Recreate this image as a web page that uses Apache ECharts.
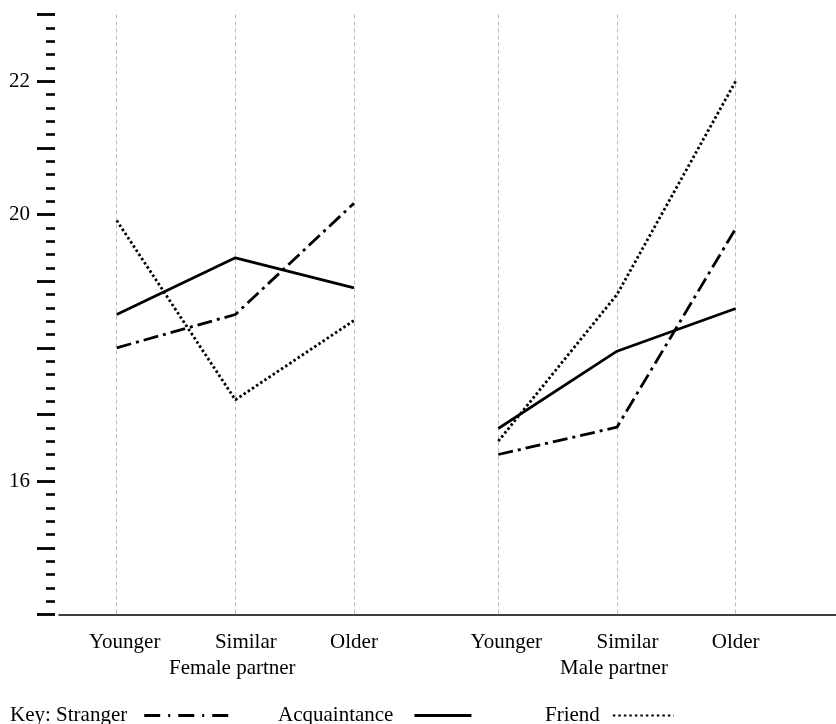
<!DOCTYPE html>
<html>
<head>
<meta charset="utf-8">
<script src="https://cdn.jsdelivr.net/npm/echarts@6/dist/echarts.min.js"></script>
<style>
  html, body { margin: 0; padding: 0; background: #fff; }
  #chart { width: 836px; height: 724px; }
</style>
</head>
<body>
<div id="chart"></div>
<script>
// Partner age relative to participant, per relationship type
const ageGroups = ['Younger', 'Similar', 'Older'];
const panelNames = ['Female partner', 'Male partner'];

const femaleStranger = [18.0, 18.5, 20.17];
const femaleAcquaintance = [18.5, 19.35, 18.9];
const femaleFriend = [19.91, 17.22, 18.41];

const maleStranger = [16.4, 16.81, 19.79];
const maleAcquaintance = [16.79, 17.95, 18.59];
const maleFriend = [16.6, 18.8, 22.0];

// Value axis: 14..23 with labels only at selected values
const yMin = 14;
const yMax = 23;
const yLabelled = [16, 20, 22];

const FONT = 'Liberation Serif';
const INK = '#000';

const styles = {
  Stranger: { type: [15, 5, 3, 5], width: 2.8 },
  Acquaintance: { type: 'solid', width: 2.7 },
  Friend: { type: [2.5, 2.5], width: 2.8 }
};

// horizontal nudge (px, doubled as left padding) for each category label
const labelNudge = [16, 21, 0];

const plotTop = 14.5, plotBottom = 109.5;

function panelSeries(name, values, idx) {
  return {
    name: name,
    type: 'line',
    xAxisIndex: idx,
    yAxisIndex: idx,
    data: values,
    symbol: 'none',
    silent: true,
    lineStyle: { color: INK, width: styles[name].width, type: styles[name].type, cap: 'butt' },
    itemStyle: { color: INK }
  };
}

function panelXAxis(gridIndex, name) {
  const rich = {};
  labelNudge.forEach((p, i) => {
    rich['c' + i] = { color: INK, fontFamily: FONT, fontSize: 21, padding: [0, 0, 0, p] };
  });
  return {
    type: 'category',
    gridIndex: gridIndex,
    data: ageGroups,
    boundaryGap: false,
    axisLine: { show: false },
    axisTick: { show: false },
    splitLine: { show: true, interval: 0, lineStyle: { color: '#bbbbbb', type: [4, 3], width: 1 } },
    axisLabel: {
      color: INK, fontFamily: FONT, fontSize: 21, margin: 17, interval: 0, hideOverlap: false,
      formatter: (v, i) => '{c' + i + '|' + v + '}',
      rich: rich
    },
    name: name,
    nameLocation: 'middle',
    nameGap: 43,
    nameTextStyle: { color: INK, fontFamily: FONT, fontSize: 21, padding: [0, 6, 0, 0] }
  };
}

function hiddenYAxis(gridIndex) {
  return { type: 'value', gridIndex: gridIndex, min: yMin, max: yMax, show: false };
}

function legendItem(name, left, width, gap, lineType, lineWidth, label) {
  return {
    data: [name],
    left: left,
    top: 700,
    align: 'right',
    itemWidth: width,
    itemHeight: 14,
    selectedMode: false,
    formatter: label,
    textStyle: { color: INK, fontFamily: FONT, fontSize: 21, padding: [0, gap, 0, 0] },
    itemStyle: { color: 'transparent', borderWidth: 0 },
    lineStyle: { color: INK, width: lineWidth, type: lineType, cap: 'butt' }
  };
}

const chart = echarts.init(document.getElementById('chart'), null, { renderer: 'canvas' });

chart.setOption({
  animation: false,
  backgroundColor: '#fff',
  grid: [
    // tick scale on the left
    { left: 55, right: 0, top: plotTop, bottom: plotBottom },
    // female panel
    { left: 116.7, right: 836 - 354, top: plotTop, bottom: plotBottom },
    // male panel
    { left: 498.3, right: 836 - 735.7, top: plotTop, bottom: plotBottom },
    // baseline
    { left: 59, right: 0, top: plotTop, bottom: plotBottom }
  ],
  xAxis: [
    { type: 'value', gridIndex: 0, min: 0, max: 1, show: false },
    panelXAxis(1, panelNames[0]),
    panelXAxis(2, panelNames[1]),
    {
      type: 'value', gridIndex: 3, min: 0, max: 1,
      axisLine: { show: true, lineStyle: { color: INK, width: 1.5 } },
      axisTick: { show: false }, axisLabel: { show: false }, splitLine: { show: false }
    }
  ],
  yAxis: [
    {
      type: 'value', gridIndex: 0, min: yMin, max: yMax, interval: 1,
      axisLine: { show: false },
      axisTick: { show: true, length: 18, lineStyle: { color: INK, width: 2.8 } },
      minorTick: { show: true, splitNumber: 5, length: 9, lineStyle: { color: INK, width: 2.6 } },
      splitLine: { show: false },
      axisLabel: {
        color: INK, fontFamily: FONT, fontSize: 21, margin: 25,
        formatter: v => (yLabelled.indexOf(v) >= 0 ? String(v) : '')
      }
    },
    hiddenYAxis(1),
    hiddenYAxis(2),
    hiddenYAxis(3)
  ],
  legend: [
    legendItem('Stranger', 5, 84, 12, [16, 8, 2, 8], 3, 'Key: {name}'),
    legendItem('Acquaintance', 273, 57, 16, 'solid', 3, '{name}'),
    legendItem('Friend', 540, 61, 8, [2.5, 3], 2.2, '{name}')
  ],
  series: [
    panelSeries('Stranger', femaleStranger, 1),
    panelSeries('Acquaintance', femaleAcquaintance, 1),
    panelSeries('Friend', femaleFriend, 1),
    panelSeries('Stranger', maleStranger, 2),
    panelSeries('Acquaintance', maleAcquaintance, 2),
    panelSeries('Friend', maleFriend, 2)
  ]
});
</script>
</body>
</html>
